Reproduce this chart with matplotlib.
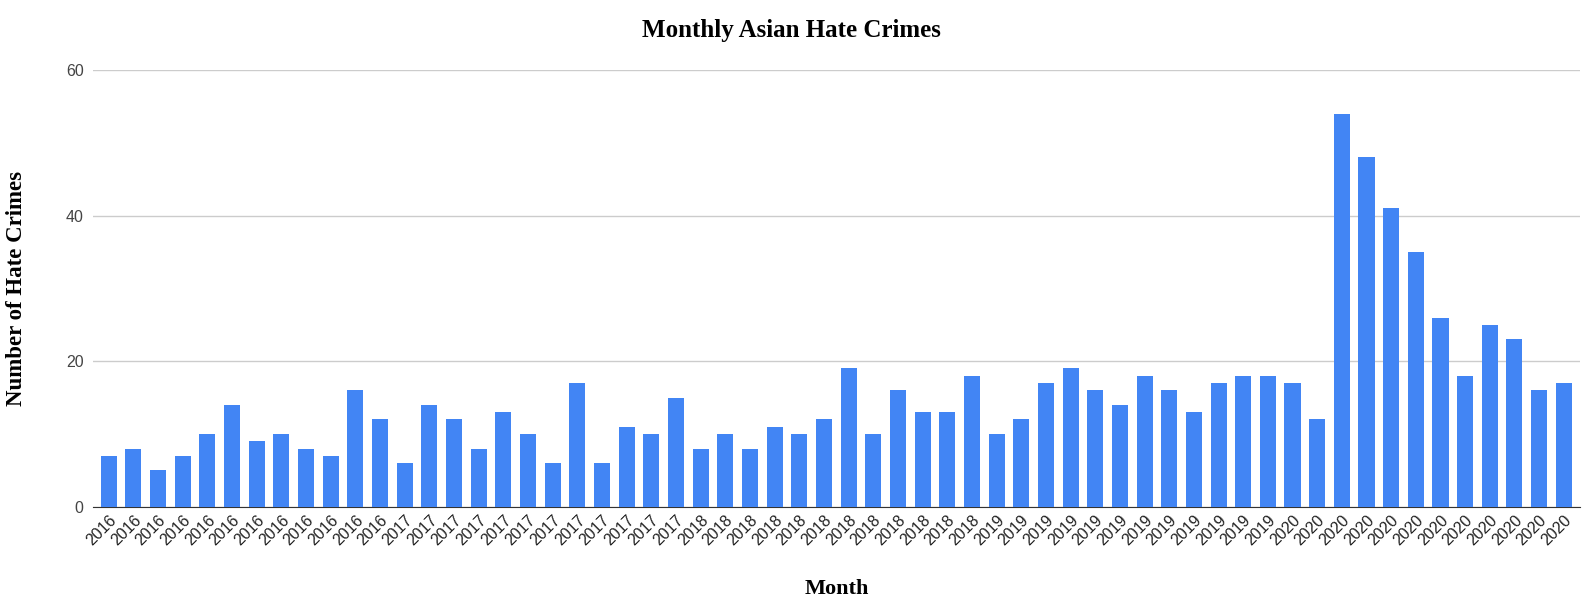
import matplotlib
matplotlib.use("Agg")
import matplotlib.pyplot as plt

years = ["2016"] * 12 + ["2017"] * 12 + ["2018"] * 12 + ["2019"] * 12 + ["2020"] * 12
counts_2016 = [7, 8, 5, 7, 10, 14, 9, 10, 8, 7, 16, 12]
counts_2017 = [6, 14, 12, 8, 13, 10, 6, 17, 6, 11, 10, 15]
counts_2018 = [8, 10, 8, 11, 10, 12, 19, 10, 16, 13, 13, 18]
counts_2019 = [10, 12, 17, 19, 16, 14, 18, 16, 13, 17, 18, 18]
counts_2020 = [17, 12, 54, 48, 41, 35, 26, 18, 25, 23, 16, 17]
counts = counts_2016 + counts_2017 + counts_2018 + counts_2019 + counts_2020
y_ticks = [0, 20, 40, 60]

fig = plt.figure(figsize=(15.83, 6.04), dpi=100)
ax = fig.add_axes([0.059, 0.161, 0.939, 0.723])

x = list(range(len(counts)))
ax.bar(x, counts, width=0.65, color="#4285f4", zorder=3)

ax.set_xlim(-0.62, len(counts) - 1 + 0.65)
ax.set_ylim(0, 60)
ax.set_yticks(y_ticks)
ax.set_xticks(x)
ax.set_xticklabels(years, rotation=45, ha="right", rotation_mode="anchor",
                   fontsize=11.5, family="Liberation Sans", color="#222222")
for lab in ax.get_yticklabels():
    lab.set_family("Liberation Sans")
    lab.set_fontsize(11.5)
    lab.set_color("#444444")

ax.grid(axis="y", color="#cccccc", linewidth=1, zorder=0)
for s in ["top", "right", "left"]:
    ax.spines[s].set_visible(False)
ax.spines["bottom"].set_color("#333333")
ax.tick_params(axis="both", length=0)
ax.tick_params(axis="y", pad=7)
ax.tick_params(axis="x", pad=4)

fig.suptitle("Monthly Asian Hate Crimes", x=0.5, y=0.968, fontsize=18, fontweight="bold",
             family="Liberation Serif")
ax.set_xlabel("Month", fontsize=16, fontweight="bold", family="Liberation Serif", labelpad=22)
ax.set_ylabel("Number of Hate Crimes", fontsize=16.5, fontweight="bold",
              family="Liberation Serif", labelpad=28)

fig.savefig("out.png", dpi=100)
